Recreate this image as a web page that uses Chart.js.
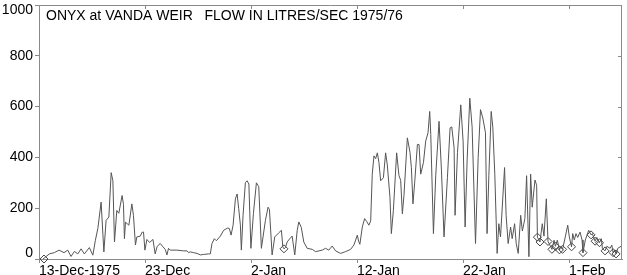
<!DOCTYPE html>
<html>
<head>
<meta charset="utf-8">
<script src="https://cdn.jsdelivr.net/npm/chart.js@4.4.0/dist/chart.umd.min.js"></script>
<style>
  html, body { margin: 0; padding: 0; background: #fff; }
  canvas { display: block; }
</style>
</head>
<body>
<canvas id="flowChart" width="627" height="275"></canvas>
<script>
const chartTitle = "ONYX at VANDA WEIR   FLOW IN LITRES/SEC 1975/76";

// x values are days counted from 13-Dec-1975 00:00
const tickDays = [0, 10, 20, 30, 40, 50];
const tickLabels = ["13-Dec-1975", "23-Dec", "2-Jan", "12-Jan", "22-Jan", "1-Feb"];
const flowTicks = [0, 200, 400, 600, 800, 1000];

const flowDays = [
  0.38, 0.47, 0.97, 1.45, 1.89, 2.36, 2.71, 3.02, 3.34, 3.66,
  3.97, 4.28, 4.75, 5.08, 5.32, 5.55, 5.86, 6.12, 6.33, 6.59,
  6.81, 6.97, 7.12, 7.34, 7.53, 7.84, 7.97, 8.06, 8.16, 8.48,
  8.76, 8.91, 9.10, 9.23, 9.55, 9.74, 9.86, 9.99, 10.18, 10.43,
  10.75, 10.96, 11.15, 11.44, 11.69, 11.91, 12.07, 12.22, 12.38, 13.01,
  13.64, 13.96, 14.11, 14.27, 14.58, 14.91, 15.22, 15.53, 16.00, 16.16,
  16.32, 16.54, 16.73, 17.11, 17.42, 17.80, 17.96, 18.12, 18.31, 18.53,
  18.69, 18.84, 19.00, 19.09, 19.25, 19.47, 19.63, 19.80, 19.99, 20.23,
  20.51, 20.73, 20.98, 21.36, 21.61, 21.74, 21.99, 22.24, 22.62, 22.87,
  23.00, 23.11, 23.25, 23.41, 23.66, 23.88, 24.13, 24.36, 24.51, 24.74,
  24.98, 25.30, 25.78, 26.09, 26.72, 27.03, 27.34, 27.66, 27.98, 28.45,
  28.92, 29.40, 29.71, 30.03, 30.15, 30.27, 30.50, 30.72, 30.91, 31.12,
  31.29, 31.44, 31.60, 31.76, 31.92, 32.07, 32.23, 32.49, 32.70, 32.86,
  33.11, 33.24, 33.43, 33.74, 33.96, 34.12, 34.28, 34.43, 34.75, 35.00,
  35.13, 35.28, 35.44, 35.70, 35.85, 36.01, 36.27, 36.48, 36.70, 36.86,
  36.96, 37.21, 37.43, 37.74, 37.97, 38.21, 38.53, 38.78, 38.94, 39.16,
  39.25, 39.48, 39.79, 40.01, 40.20, 40.39, 40.64, 40.86, 41.18, 41.43,
  41.65, 41.87, 42.12, 42.27, 42.44, 42.66, 42.81, 43.00, 43.22, 43.38,
  43.54, 43.92, 44.07, 44.26, 44.49, 44.64, 44.87, 45.02, 45.21, 45.44,
  45.60, 45.84, 46.00, 46.22, 46.38, 46.53, 46.79, 46.95, 47.02, 47.26,
  47.48, 47.64, 47.86, 48.02, 48.20, 48.39, 48.59, 48.72, 48.90, 49.10,
  49.25, 49.39, 49.65, 49.88, 50.03, 50.24, 50.35, 50.50, 50.66, 50.82,
  51.04, 51.23, 51.32, 51.54, 51.86, 52.08, 52.20, 52.46, 52.62, 52.88,
  53.05, 53.15, 53.40, 53.57, 53.88, 54.04, 54.16, 54.30, 54.44, 54.60,
  54.91, 55.00
];
const flowValues = [
  0, 0, 20, 25, 35, 25, 35, 10, 30, 20,
  40, 20, 45, 15, 74, 120, 224, 28, 152, 165,
  340, 308, 67, 191, 180, 250, 215, 80, 145, 133,
  217, 172, 55, 87, 90, 106, 106, 35, 77, 65,
  77, 20, 50, 61, 48, 38, 16, 42, 35, 35,
  32, 32, 25, 28, 25, 22, 16, 18, 20, 20,
  61, 80, 72, 90, 113, 122, 120, 94, 133, 237,
  256, 198, 133, 35, 172, 301, 308, 295, 42, 180,
  300, 285, 42, 152, 204, 195, 16, 87, 103, 113,
  48, 40, 45, 67, 80, 90, 16, 113, 146, 125,
  67, 42, 38, 29, 35, 42, 35, 51, 32, 22,
  29, 38, 55, 94, 70, 58, 126, 159, 148, 133,
  150, 334, 406, 395, 418, 380, 308, 320, 418, 370,
  243, 100, 190, 418, 328, 310, 178, 250, 477, 420,
  360, 217, 300, 451, 451, 334, 380, 464, 497, 581,
  490, 100, 330, 542, 347, 87, 320, 516, 520, 438,
  172, 420, 607, 464, 126, 390, 633, 520, 61, 400,
  588, 555, 497, 100, 330, 581, 520, 334, 22, 139,
  87, 360, 170, 61, 126, 80, 139, 61, 22, 172,
  110, 160, 328, 9, 334, 204, 311, 290, 86, 67,
  139, 90, 237, 69, 55, 38, 74, 50, 74, 36,
  48, 38, 87, 133, 87, 48, 100, 75, 100, 85,
  106, 75, 25, 75, 113, 95, 100, 70, 85, 64,
  80, 42, 32, 50, 42, 55, 25, 35, 20, 42,
  50, 48
];

// readings shown with an open diamond
const markDays = [0.47, 23.11, 47.02, 47.26, 48.02, 48.39, 48.72, 49.10, 49.39, 50.24, 51.32, 52.08, 52.46, 52.88, 53.40, 54.16, 54.44];
const markFlows = [0, 40, 86, 67, 69, 38, 50, 36, 38, 48, 25, 95, 70, 64, 32, 25, 20];

const axisColor = "#8a8a8a";
const labelFont = { family: "'Liberation Sans', Arial, sans-serif", size: 14 };

const framePlugin = {
  id: "frame",
  afterDraw(chart) {
    const { ctx, chartArea: a, scales: { x, y } } = chart;
    ctx.save();
    ctx.strokeStyle = axisColor;
    ctx.lineWidth = 1;
    ctx.beginPath();
    ctx.moveTo(a.left, a.top + 0.5);
    ctx.lineTo(a.right, a.top + 0.5);
    ctx.moveTo(a.right - 0.5, a.top);
    ctx.lineTo(a.right - 0.5, a.bottom);
    tickDays.forEach(d => {
      const px = Math.round(x.getPixelForValue(d)) + 0.5;
      ctx.moveTo(px, a.top);
      ctx.lineTo(px, a.top + 4);
    });
    flowTicks.forEach(v => {
      const py = Math.round(y.getPixelForValue(v)) + 0.5;
      ctx.moveTo(a.right, py);
      ctx.lineTo(a.right - 4, py);
    });
    ctx.stroke();

    ctx.fillStyle = "#000";
    ctx.font = "14px 'Liberation Sans', Arial, sans-serif";
    ctx.textAlign = "right";
    ctx.textBaseline = "middle";
    flowTicks.forEach(v => {
      const py = Math.min(Math.max(y.getPixelForValue(v), a.top + 5), a.bottom - 6);
      ctx.fillText(String(v), a.left - 6, py);
    });
    ctx.textAlign = "left";
    ctx.fillText(chartTitle, a.left + 7, a.top + 11);
    ctx.restore();
  }
};

new Chart(document.getElementById("flowChart"), {
  type: "scatter",
  data: {
    datasets: [
      {
        label: "Flow",
        data: flowDays.map((d, i) => ({ x: d, y: flowValues[i] })),
        showLine: true,
        borderColor: "#555",
        borderWidth: 1,
        pointRadius: 0,
        tension: 0
      },
      {
        label: "Marked",
        data: markDays.map((d, i) => ({ x: d, y: markFlows[i] })),
        showLine: false,
        pointStyle: "rectRot",
        pointRadius: 4,
        borderColor: "#444",
        borderWidth: 1,
        backgroundColor: "rgba(255,255,255,0)",
        clip: false
      }
    ]
  },
  options: {
    responsive: false,
    animation: false,
    devicePixelRatio: 1,
    layout: { padding: { top: 3, right: 5, left: 0, bottom: 0 } },
    plugins: { legend: { display: false }, tooltip: { enabled: false } },
    scales: {
      x: {
        type: "linear",
        min: 0,
        max: 55,
        afterBuildTicks: s => { s.ticks = tickDays.map(v => ({ value: v })); },
        afterFit: s => { s.height = 16; },
        ticks: {
          color: "#000",
          font: labelFont,
          align: "start",
          padding: 0,
          maxRotation: 0,
          autoSkip: false,
          callback: v => tickLabels[tickDays.indexOf(v)]
        },
        grid: { drawOnChartArea: false, drawTicks: true, tickLength: 4, color: axisColor },
        border: { display: true, color: axisColor }
      },
      y: {
        min: 0,
        max: 1000,
        afterBuildTicks: s => { s.ticks = flowTicks.map(v => ({ value: v })); },
        afterFit: s => { s.width = 39; s.paddingTop = 0; s.paddingBottom = 0; },
        ticks: { display: false },
        grid: { drawOnChartArea: false, drawTicks: true, tickLength: 4, color: axisColor },
        border: { display: true, color: axisColor }
      }
    }
  },
  plugins: [framePlugin]
});
</script>
</body>
</html>
